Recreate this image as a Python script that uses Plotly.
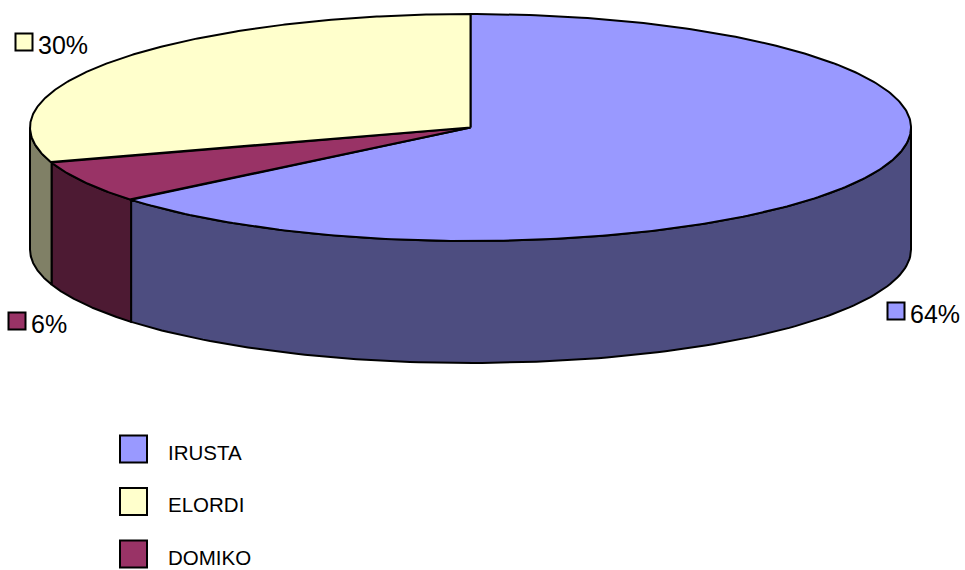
import numpy as np
import plotly.graph_objects as go

# ---- data ----
categories = ["IRUSTA", "DOMIKO", "ELORDI"]          # clockwise order from 12 o'clock
values = [64, 6, 30]
legend_order = ["IRUSTA", "ELORDI", "DOMIKO"]
top_colors = {"IRUSTA": "#9999FF", "ELORDI": "#FFFFCC", "DOMIKO": "#993366"}
side_colors = {"IRUSTA": "#4D4D80", "ELORDI": "#808066", "DOMIKO": "#4D1A33"}
label_pos = {"IRUSTA": (896, 311), "ELORDI": (24, 42), "DOMIKO": (17, 321)}

# ---- geometry (pixel space) ----
CX, CY, RX, RY, DEPTH = 470.5, 127.5, 440.5, 113.5, 122
W, H = 965, 570

def pt(theta_deg, dy=0.0):
    t = np.radians(theta_deg)
    return CX + RX * np.sin(t), CY - RY * np.cos(t) + dy

fig = go.Figure()
total = sum(values)
starts, ends = [], []
acc = 0.0
for v in values:
    starts.append(acc / total * 360)
    acc += v
    ends.append(acc / total * 360)

LW = 2
# side faces (visible front half: 90..270 deg)
for cat, a, b in zip(categories, starts, ends):
    lo, hi = max(a, 90), min(b, 270)
    if hi <= lo:
        continue
    th = np.linspace(lo, hi, 120)
    xt, yt = pt(th)
    xb, yb = pt(th[::-1], DEPTH)
    xs = np.concatenate([xt, xb, xt[:1]])
    ys = np.concatenate([yt, yb, yt[:1]])
    fig.add_trace(go.Scatter(x=xs, y=ys, mode="lines", fill="toself",
                             fillcolor=side_colors[cat],
                             line=dict(color="black", width=LW),
                             hoverinfo="skip", showlegend=False))

# top faces
for cat, a, b in zip(categories, starts, ends):
    th = np.linspace(a, b, 300)
    xa, ya = pt(th)
    xs = np.concatenate([[CX], xa, [CX]])
    ys = np.concatenate([[CY], ya, [CY]])
    fig.add_trace(go.Scatter(x=xs, y=ys, mode="lines", fill="toself",
                             fillcolor=top_colors[cat],
                             line=dict(color="black", width=LW),
                             hoverinfo="skip", showlegend=False))

# data labels with small keys
for cat, v in zip(categories, values):
    lx, ly = label_pos[cat]
    fig.add_trace(go.Scatter(x=[lx], y=[ly], mode="markers",
                             marker=dict(symbol="square", size=17, color=top_colors[cat],
                                         line=dict(color="black", width=2)),
                             hoverinfo="skip", showlegend=False))
    fig.add_annotation(x=lx + 12, y=ly + 3, text=f"{v}%", showarrow=False,
                       xanchor="left", yanchor="middle",
                       font=dict(family="Arial, Liberation Sans", size=25, color="black"))

# legend
for i, cat in enumerate(legend_order):
    y = 449 + i * 52.5
    fig.add_trace(go.Scatter(x=[133.5], y=[y], mode="markers",
                             marker=dict(symbol="square", size=27, color=top_colors[cat],
                                         line=dict(color="black", width=2)),
                             hoverinfo="skip", showlegend=False))
    fig.add_annotation(x=167, y=y + 3, text=cat, showarrow=False,
                       xanchor="left", yanchor="middle", borderpad=0,
                       font=dict(family="Arial, Liberation Sans", size=20.5, color="black"))

fig.update_layout(
    width=W, height=H, margin=dict(l=0, r=0, t=0, b=0),
    paper_bgcolor="white", plot_bgcolor="white",
    xaxis=dict(range=[0, W], visible=False, fixedrange=True),
    yaxis=dict(range=[H, 0], visible=False, fixedrange=True),
    showlegend=False,
)
fig.write_html("out.html")
